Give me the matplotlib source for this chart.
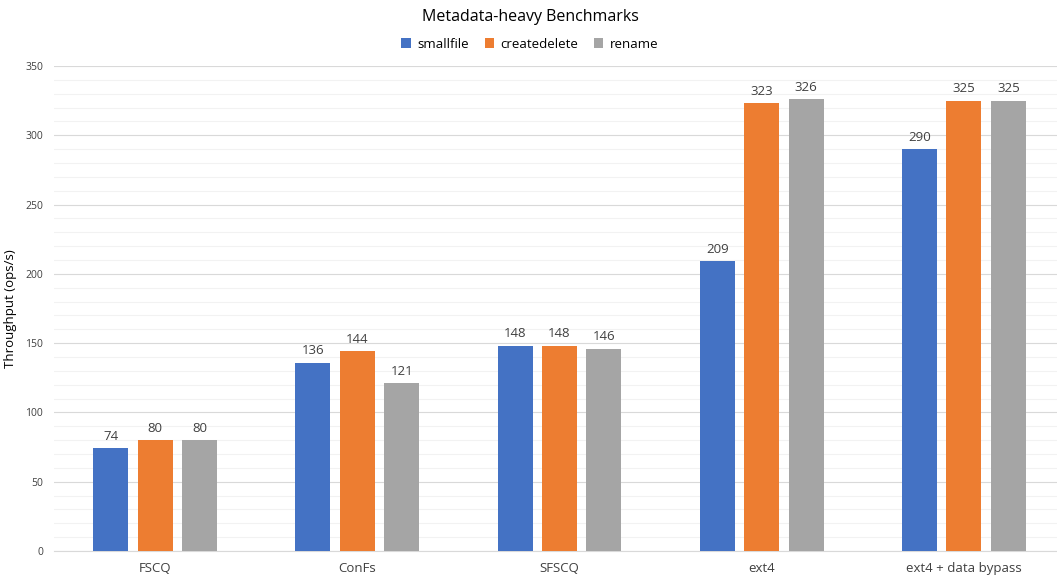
import matplotlib
matplotlib.use("Agg")
import matplotlib.pyplot as plt
import numpy as np

categories = ["FSCQ", "ConFs", "SFSCQ", "ext4", "ext4 + data bypass"]
series_names = ["smallfile", "createdelete", "rename"]
smallfile = [74, 136, 148, 209, 290]
createdelete = [80, 144, 148, 323, 325]
rename = [80, 121, 146, 326, 325]
colors = ["#4472C4", "#ED7D31", "#A5A5A5"]

plt.rcParams['font.family'] = ['Open Sans', 'DejaVu Sans']

fig = plt.figure(figsize=(10.57, 5.82), dpi=100)
ax = fig.add_axes([54/1057, 31/582, 1011/1057, 485/582])

x = np.arange(len(categories))
width = 0.173
offset = 0.22
for i, (name, vals, c) in enumerate(zip(series_names, [smallfile, createdelete, rename], colors)):
    pos = x + (i - 1) * offset
    ax.bar(pos, vals, width, color=c, label=name, zorder=3)
    for xx, v in zip(pos, vals):
        ax.text(xx, v + 4, f"{v}", ha="center", va="bottom", fontsize=9.5, color="#404040")

ax.set_xlim(-0.5, len(categories) - 0.5)
ax.set_ylim(0, 350)
ax.set_yticks(np.arange(0, 351, 50))
ax.set_yticks(np.arange(0, 351, 10), minor=True)
ax.grid(axis="y", which="major", color="#D9D9D9", linewidth=0.8, zorder=0)
ax.grid(axis="y", which="minor", color="#F2F2F2", linewidth=0.8, zorder=0)
ax.set_xticks(x)
ax.set_xticklabels(categories, fontsize=9.5, color="#404040")
ax.tick_params(axis="y", which="both", length=0, labelsize=7.5, colors="#404040", pad=8)
ax.tick_params(axis="x", length=0, pad=8)
for s in ["top", "right", "left"]:
    ax.spines[s].set_visible(False)
ax.spines["bottom"].set_color("#D9D9D9")
ax.set_ylabel("Throughput (ops/s)", fontsize=9.5, color="#000000", labelpad=6)

fig.text(530/1057, 1 - 17/582, "Metadata-heavy Benchmarks", ha="center", va="center", fontsize=11.5, color="#000000")
fig.legend(loc="center", bbox_to_anchor=(530/1057, 1 - 44/582), ncol=3, frameon=False,
           fontsize=9.5, handlelength=0.7, handleheight=0.7, columnspacing=1.2, handletextpad=0.5)

fig.savefig("out.png", dpi=100, facecolor="white")
